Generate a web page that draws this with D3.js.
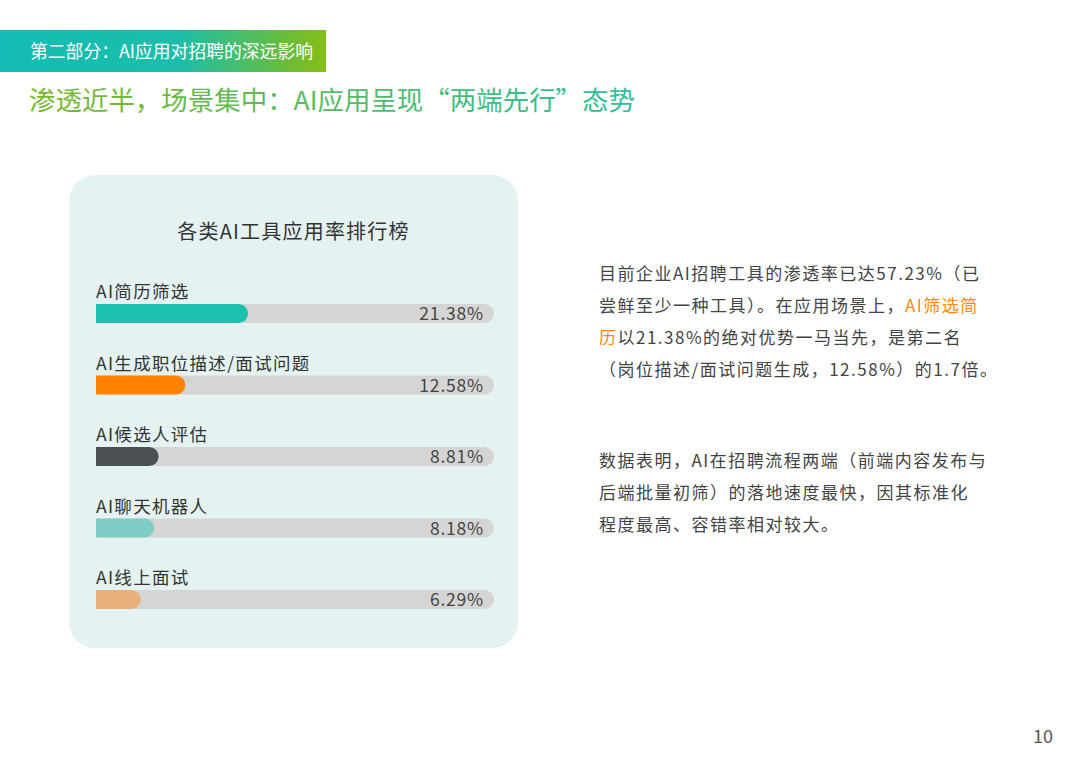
<!DOCTYPE html>
<html>
<head>
<meta charset="utf-8">
<script src="https://cdn.jsdelivr.net/npm/d3@7"></script>
<style>
    body { margin: 0; background: #ffffff; }
    svg text { font-family: "Noto Sans CJK SC", "Noto Sans", sans-serif; }
</style>
</head>
<body>
<div id="chart"></div>
<script>
// Chart data
const categories = ['AI简历筛选', 'AI生成职位描述/面试问题', 'AI候选人评估', 'AI聊天机器人', 'AI线上面试'];
const values = [21.38, 12.58, 8.81, 8.18, 6.29];
const valueLabels = ['21.38%', '12.58%', '8.81%', '8.18%', '6.29%'];
const barColors = ['#1dbfae', '#ff8200', '#4a5053', '#7dcdc4', '#e9b07c'];

const bannerText = '第二部分：AI应用对招聘的深远影响';
const headline = '渗透近半，场景集中：AI应用呈现“两端先行”态势';
const chartTitle = '各类AI工具应用率排行榜';

// Right-hand commentary, each line as [text, highlighted?] pieces
const para1 = [
    [['目前企业AI招聘工具的渗透率已达57.23%（已', false]],
    [['尝鲜至少一种工具）。在应用场景上，', false], ['AI筛选简', true]],
    [['历', true], ['以21.38%的绝对优势一马当先，是第二名', false]],
    [['（岗位描述/面试问题生成，12.58%）的1.7倍。', false]]
];
const para2 = [
    [['数据表明，AI在招聘流程两端（前端内容发布与', false]],
    [['后端批量初筛）的落地速度最快，因其标准化', false]],
    [['程度最高、容错率相对较大。', false]]
];

const width = 1080;
const height = 764;

const svg = d3.select('#chart').append('svg')
    .attr('width', width)
    .attr('height', height);

const defs = svg.append('defs');

// Banner gradient
const bannerGrad = defs.append('linearGradient')
    .attr('id', 'banner-grad')
    .attr('x1', '0%').attr('x2', '100%');
bannerGrad.append('stop').attr('offset', '0%').attr('stop-color', '#12bcb4');
bannerGrad.append('stop').attr('offset', '55%').attr('stop-color', '#1cbea9');
bannerGrad.append('stop').attr('offset', '100%').attr('stop-color', '#86bd14');

// Headline gradient
const titleGrad = defs.append('linearGradient')
    .attr('id', 'title-grad')
    .attr('gradientUnits', 'userSpaceOnUse')
    .attr('x1', 29).attr('x2', 635).attr('y1', 0).attr('y2', 0);
titleGrad.append('stop').attr('offset', '0%').attr('stop-color', '#7ab82e');
titleGrad.append('stop').attr('offset', '100%').attr('stop-color', '#2fbe9b');

// Banner
svg.append('rect')
    .attr('x', 0).attr('y', 30)
    .attr('width', 326).attr('height', 42)
    .attr('fill', 'url(#banner-grad)');

svg.append('text')
    .attr('x', 30).attr('y', 58)
    .attr('font-size', 18)
    .attr('textLength', 283)
    .attr('lengthAdjust', 'spacingAndGlyphs')
    .attr('fill', '#ffffff')
    .text(bannerText);

// Headline
svg.append('text')
    .attr('x', 29).attr('y', 110)
    .attr('font-size', 26)
    .attr('textLength', 606)
    .attr('lengthAdjust', 'spacingAndGlyphs')
    .attr('fill', 'url(#title-grad)')
    .text(headline);

// Card
const card = { x: 69, y: 175, w: 449, h: 473 };
svg.append('rect')
    .attr('x', card.x).attr('y', card.y)
    .attr('width', card.w).attr('height', card.h)
    .attr('rx', 26)
    .attr('fill', '#e4f3f1');

svg.append('text')
    .attr('x', card.x + card.w / 2).attr('y', 239)
    .attr('text-anchor', 'middle')
    .attr('font-size', 20)
    .attr('letter-spacing', 1.2)
    .attr('fill', '#333333')
    .text(chartTitle);

// Scales
const trackX0 = 96;
const trackX1 = 494;
const barH = 19;

const x = d3.scaleLinear()
    .domain([0, 56])
    .range([0, trackX1 - trackX0]);

const y = d3.scalePoint()
    .domain(categories)
    .range([304, 590]);

const color = d3.scaleOrdinal()
    .domain(categories)
    .range(barColors);

const rows = svg.selectAll('.row')
    .data(categories.map((c, i) => ({ name: c, value: values[i], label: valueLabels[i] })))
    .enter()
    .append('g')
    .attr('class', 'row')
    .attr('transform', d => `translate(${trackX0}, ${y(d.name)})`);

// Track
rows.append('rect')
    .attr('width', trackX1 - trackX0)
    .attr('height', barH)
    .attr('rx', barH / 2)
    .attr('fill', '#d5d5d5');

// Value bar (square at left, round at right)
rows.append('path')
    .attr('fill', d => color(d.name))
    .attr('d', d => {
        const w = x(d.value);
        const r = barH / 2;
        return `M0,0 H${w - r} A${r},${r} 0 0 1 ${w - r},${barH} H0 Z`;
    });

// Category labels
rows.append('text')
    .attr('x', 0).attr('y', -6)
    .attr('font-size', 17.5)
    .attr('letter-spacing', 1.3)
    .attr('fill', '#333333')
    .text(d => d.name);

// Value labels
rows.append('text')
    .attr('x', 388).attr('y', 16)
    .attr('text-anchor', 'end')
    .attr('font-size', 17.5)
    .attr('letter-spacing', 0.8)
    .attr('fill', '#444444')
    .text(d => d.label);

// Commentary text
function drawParagraph(lines, y0, step) {
    lines.forEach((pieces, i) => {
        const t = svg.append('text')
            .attr('x', 599).attr('y', y0 + i * step)
            .attr('font-size', 17)
            .attr('letter-spacing', 1.5)
            .attr('fill', '#444444');
        pieces.forEach(p => {
            t.append('tspan')
                .attr('fill', p[1] ? '#ff8a00' : '#444444')
                .text(p[0]);
        });
    });
}

drawParagraph(para1, 280, 32);
drawParagraph(para2, 467, 32);

// Page number
svg.append('text')
    .attr('x', 1053).attr('y', 743)
    .attr('text-anchor', 'end')
    .attr('font-size', 18)
    .attr('fill', '#555555')
    .text('10');
</script>
</body>
</html>
